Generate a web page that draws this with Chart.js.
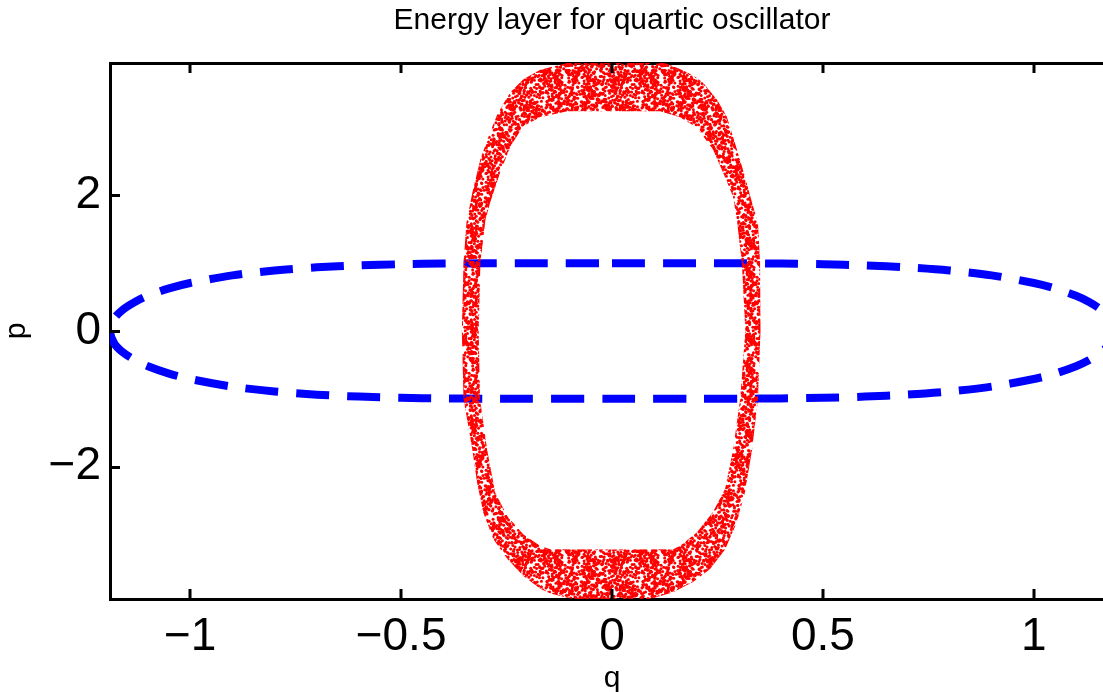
<!DOCTYPE html>
<html>
<head>
<meta charset="utf-8">
<script src="https://cdn.jsdelivr.net/npm/chart.js@4.4.1/dist/chart.umd.min.js"></script>
<style>
html,body{margin:0;padding:0;background:#fff;overflow:hidden;width:1103px;height:692px}
#wrap{width:1120px;height:692px}
canvas{display:block}
</style>
</head>
<body>
<div id="wrap"><canvas id="c" width="1120" height="692"></canvas></div>
<script>
// ---------- texts ----------
const chartTitle = 'Energy layer for quartic oscillator';
const xLabel = 'q';
const yLabel = 'p';

// ---------- axes ----------
const xRange = [-1.19, 1.19];
const yRange = [-3.95, 3.95];
const xTicks = [-1, -0.5, 0, 0.5, 1];
const yTicks = [-2, 0, 2];

// ---------- blue dashed level curve (q, p) ----------
const blueQ = [0, 0.2, 0.3, 0.4, 0.5, 0.6, 0.7, 0.8, 0.9, 1.0, 1.05, 1.1, 1.13, 1.16, 1.18, 1.19,
  1.18, 1.16, 1.13, 1.1, 1.05, 1.0, 0.9, 0.8, 0.7, 0.6, 0.5, 0.4, 0.3, 0.2, 0,
  -0.2, -0.3, -0.4, -0.5, -0.6, -0.7, -0.8, -0.9, -1.0, -1.05, -1.1, -1.13, -1.16, -1.18, -1.19,
  -1.18, -1.16, -1.13, -1.1, -1.05, -1.0, -0.9, -0.8, -0.7, -0.6, -0.5, -0.4, -0.3, -0.2, 0];
const blueP = [1, 1, 0.998, 0.994, 0.984, 0.967, 0.938, 0.892, 0.82, 0.708, 0.628, 0.52, 0.432, 0.312, 0.182, 0,
  -0.182, -0.312, -0.432, -0.52, -0.628, -0.708, -0.82, -0.892, -0.938, -0.967, -0.984, -0.994, -0.998, -1, -1,
  -1, -0.998, -0.994, -0.984, -0.967, -0.938, -0.892, -0.82, -0.708, -0.628, -0.52, -0.432, -0.312, -0.182, 0,
  0.182, 0.312, 0.432, 0.52, 0.628, 0.708, 0.82, 0.892, 0.938, 0.967, 0.984, 0.994, 0.998, 1, 1];

// ---------- red energy layer: outer and inner edges of the point cloud ----------
const outerQ = [0, 0.08, 0.13, 0.165, 0.195, 0.216, 0.249, 0.272, 0.296, 0.315, 0.332, 0.346, 0.351, 0.352, 0.346, 0.332,
  0.315, 0.296, 0.268, 0.232, 0.192, 0.145, 0.08, 0,
  -0.08, -0.146, -0.17, -0.21, -0.248, -0.281, -0.305, -0.32, -0.331, -0.352, -0.356, -0.352, -0.345,
  -0.331, -0.312, -0.289, -0.27, -0.241, -0.21, -0.17, -0.1, 0];
const outerP = [4.02, 4.0, 3.94, 3.85, 3.76, 3.66, 3.41, 3.16, 2.68, 2.28, 1.89, 1.6, 1.0, 0, -1.0, -1.75,
  -2.38, -2.82, -3.22, -3.51, -3.7, -3.85, -3.97, -4.02,
  -3.97, -3.87, -3.8, -3.61, -3.36, -3.07, -2.68, -2.23, -1.75, -1.0, 0, 1.0, 1.6,
  2.04, 2.53, 2.93, 3.22, 3.52, 3.71, 3.85, 3.96, 4.02];
const innerQ = [0, -0.106, -0.17, -0.21, -0.241, -0.265, -0.289, -0.3, -0.312, -0.316, -0.313, -0.296,
  -0.277, -0.248, -0.21, -0.17, -0.146, 0, 0.145, 0.161, 0.201, 0.239, 0.268, 0.287,
  0.304, 0.316, 0.308, 0.296, 0.287, 0.263, 0.239, 0.201, 0.161, 0.114, 0];
const innerP = [3.24, 3.24, 3.15, 3.02, 2.72, 2.34, 1.89, 1.64, 1.0, 0, -1.0, -1.75,
  -2.38, -2.73, -3.0, -3.17, -3.215, -3.22, -3.215, -3.17, -2.97, -2.67, -2.33, -1.75,
  -1.0, 0, 1.0, 1.64, 1.98, 2.34, 2.68, 3.0, 3.15, 3.24, 3.24];

// ---------- build datasets ----------
const zip = (qs, ps) => qs.map((q, i) => ({x: q, y: ps[i]}));
const bluePoints = zip(blueQ, blueP);
const bandPoints = zip(outerQ, outerP).concat(zip(innerQ, innerP));

// speckled red texture (fill style only, deterministic hash)
function dotPattern() {
  const T = 96;
  const c = document.createElement('canvas');
  c.width = T; c.height = T;
  const g = c.getContext('2d');
  g.fillStyle = '#ff0000';
  const h = n => { const s = Math.sin(n * 12.9898 + 78.233) * 43758.5453; return s - Math.floor(s); };
  for (let i = 0; i < 1500; i++) {
    const x = h(i * 2 + 1) * T;
    const y = h(i * 2 + 2.5) * T;
    for (const dx of [-T, 0, T]) for (const dy of [-T, 0, T]) {
      g.beginPath();
      g.arc(x + dx, y + dy, 1.5, 0, Math.PI * 2);
      g.fill();
    }
  }
  return g.createPattern(c, 'repeat');
}

const FONT = "'Liberation Sans', Arial, Helvetica, sans-serif";
const fmt = v => String(v).replace('-', '\u2212');

const inwardTicks = {
  id: 'inwardTicks',
  afterDraw(chart) {
    const {ctx, chartArea: a, scales} = chart;
    const L = 10;
    ctx.save();
    ctx.strokeStyle = '#000';
    ctx.lineWidth = 3;
    ctx.lineCap = 'butt';
    ctx.beginPath();
    for (const t of scales.x.ticks) {
      const px = Math.round(scales.x.getPixelForValue(t.value));
      ctx.moveTo(px, a.bottom); ctx.lineTo(px, a.bottom - L);
      ctx.moveTo(px, a.top); ctx.lineTo(px, a.top + L);
    }
    for (const t of scales.y.ticks) {
      const py = Math.round(scales.y.getPixelForValue(t.value)) + 0.5;
      ctx.moveTo(a.left, py); ctx.lineTo(a.left + L, py);
      ctx.moveTo(a.right, py); ctx.lineTo(a.right - L, py);
    }
    ctx.stroke();
    ctx.restore();
  }
};

new Chart(document.getElementById('c'), {
  type: 'scatter',
  data: {
    datasets: [
      {
        label: 'energy layer',
        data: bandPoints,
        showLine: true,
        borderWidth: 0,
        borderColor: 'rgba(0,0,0,0)',
        pointRadius: 0,
        tension: 0,
        fill: 'shape',
        backgroundColor: dotPattern(),
        clip: 0
      },
      {
        label: 'level curve',
        data: bluePoints,
        showLine: true,
        borderColor: '#0000ff',
        borderWidth: 8,
        borderDash: [33, 18],
        borderCapStyle: 'butt',
        borderJoinStyle: 'miter',
        pointRadius: 0,
        tension: 0.3,
        fill: false,
        clip: 0
      }
    ]
  },
  options: {
    responsive: false,
    animation: false,
    events: [],
    layout: {padding: {left: 0, right: 6, top: 0, bottom: 0}},
    plugins: {legend: {display: false}, title: {display: false}, tooltip: {enabled: false}},
    scales: {
      x: {
        type: 'linear', position: 'bottom', min: xRange[0], max: xRange[1], z: 1,
        afterBuildTicks: s => { s.ticks = xTicks.map(v => ({value: v})); },
        afterFit: s => { s.height = 93; },
        grid: {display: false, drawTicks: false},
        border: {display: true, color: '#000', width: 3},
        ticks: {callback: fmt, color: '#000', padding: 15, autoSkip: false, maxRotation: 0,
          font: {family: FONT, size: 46, lineHeight: 1}},
        title: {display: true, text: xLabel, color: '#000', padding: {top: 0, bottom: 0},
          font: {family: FONT, size: 30, lineHeight: 0.9}}
      },
      x2: {
        type: 'linear', position: 'top', min: xRange[0], max: xRange[1], z: 1,
        afterFit: s => { s.height = 63; },
        grid: {display: false, drawTicks: false},
        border: {display: true, color: '#000', width: 3},
        ticks: {display: false},
        title: {display: true, text: chartTitle, color: '#000', padding: {top: 6, bottom: 0},
          font: {family: FONT, size: 30, lineHeight: 1}}
      },
      y: {
        type: 'linear', position: 'left', min: yRange[0], max: yRange[1], z: 1,
        afterBuildTicks: s => { s.ticks = yTicks.map(v => ({value: v})); },
        afterFit: s => { s.width = 110; },
        grid: {display: false, drawTicks: false},
        border: {display: true, color: '#000', width: 3},
        ticks: {callback: fmt, color: '#000', padding: 9, autoSkip: false,
          font: {family: FONT, size: 46, lineHeight: 1}},
        title: {display: true, text: yLabel, color: '#000', padding: {top: 2, bottom: 0},
          font: {family: FONT, size: 30, lineHeight: 1}}
      }
    }
  },
  plugins: [inwardTicks]
});
</script>
</body>
</html>
